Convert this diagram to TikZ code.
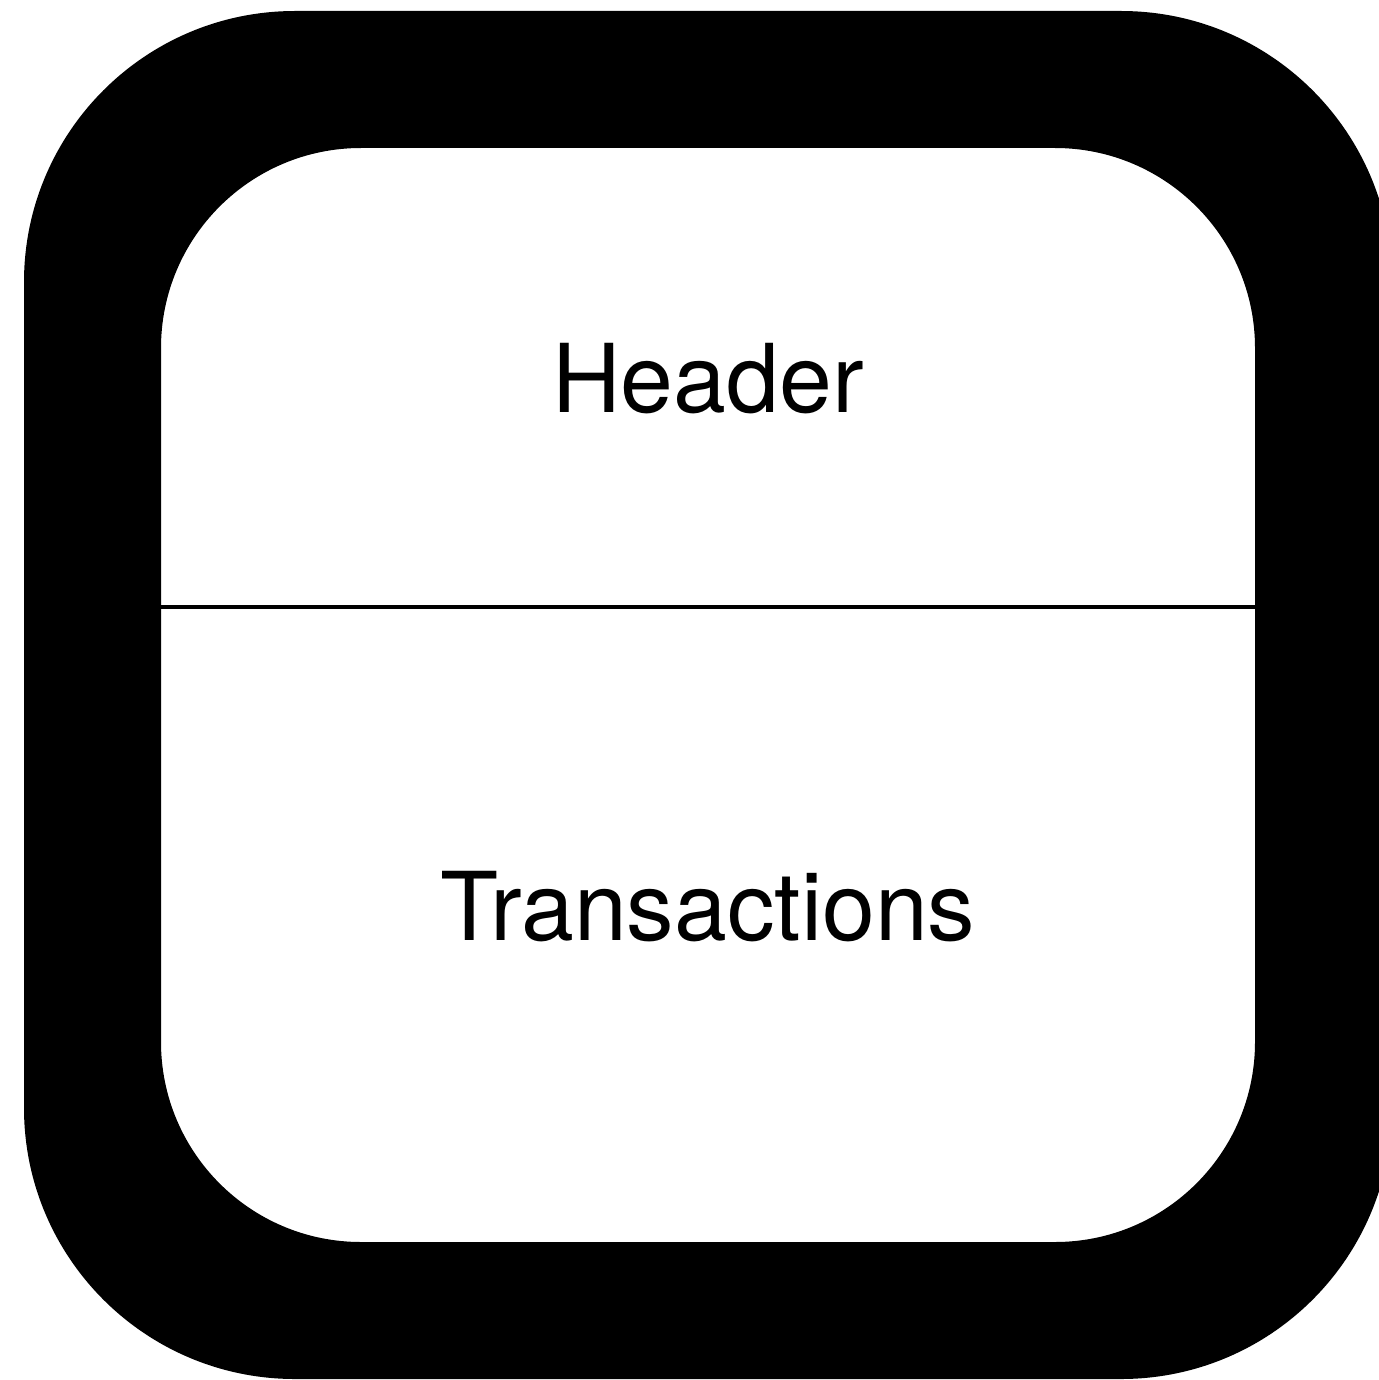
\documentclass[tikz,border=0pt]{standalone}
\usepackage{fontspec}
\setmainfont{TeX Gyre Heros}
\begin{document}
\begin{tikzpicture}[x=1pt,y=-1pt,
  label/.style={font=\fontsize{95}{100}\selectfont, anchor=base, inner sep=0pt}]
  \useasboundingbox (0,0) rectangle (1378,1380);
  % thick rounded frame: outer outline minus inner window
  \fill[black, even odd rule]
    [rounded corners=271pt] (24,11) rectangle (1392,1379)
    [rounded corners=200pt] (161,148) rectangle (1255,1242);
  % divider between the two sections
  \coordinate (divL) at (161,607);
  \coordinate (divR) at (1255,607);
  \draw[line width=4.5pt] (divL) -- (divR);
  \node[label] (header) at (708,412) {Header};
  \node[label] (tx) at (708,940) {Transactions};
\end{tikzpicture}
\end{document}
